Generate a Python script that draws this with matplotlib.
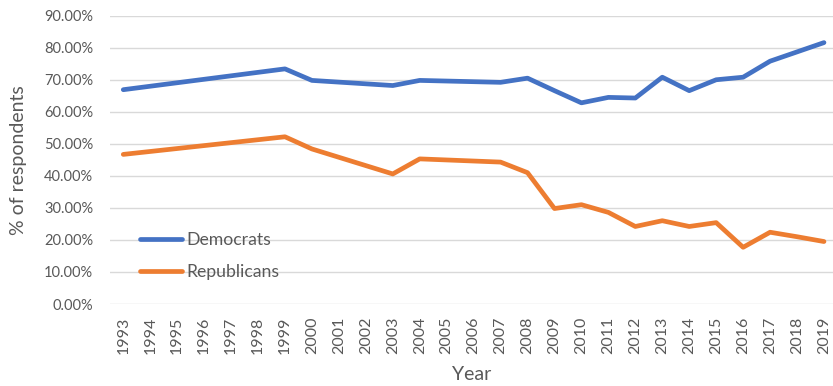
import matplotlib
matplotlib.use("Agg")
import matplotlib.pyplot as plt
from matplotlib.ticker import PercentFormatter

# share of respondents by party, survey years only
years = [1993, 1999, 2000, 2003, 2004, 2007, 2008, 2009, 2010, 2011,
         2012, 2013, 2014, 2015, 2016, 2017, 2018, 2019]
democrats = [66.9, 73.4, 69.8, 68.2, 69.8, 69.2, 70.5, 66.6, 62.8, 64.5,
             64.3, 70.8, 66.6, 70.0, 70.8, 75.8, 78.7, 81.6]
republicans = [46.7, 52.2, 48.4, 40.6, 45.3, 44.3, 41.0, 29.8, 31.0, 28.6,
               24.2, 26.0, 24.2, 25.4, 17.7, 22.4, 21.0, 19.5]
tick_years = list(range(1993, 2020))
y_ticks = [0, 10, 20, 30, 40, 50, 60, 70, 80, 90]

TEXT = "#595959"
GRID = "#D9D9D9"
W, H = 833, 386

plt.rcParams["font.family"] = ["Lato", "DejaVu Sans"]

fig = plt.figure(figsize=(W / 100, H / 100), dpi=100)
ax = fig.add_axes([109.8 / W, (H - 304) / H, (W - 109.8) / W, (304 - 15.7) / H])

ax.plot(years, democrats, color="#4472C4", lw=3.4, solid_joinstyle="round",
        solid_capstyle="round", label="Democrats", clip_on=False, zorder=3)
ax.plot(years, republicans, color="#ED7D31", lw=3.4, solid_joinstyle="round",
        solid_capstyle="round", label="Republicans", clip_on=False, zorder=3)

ax.set_xlim(1992.5, 1992.5 + (W - 109.8) / 26.95)
ax.set_ylim(0, 90)
ax.set_xticks(tick_years)
ax.set_xticklabels([str(y) for y in tick_years], rotation=90, va="top", ha="center")
ax.set_yticks(y_ticks)
ax.yaxis.set_major_formatter(PercentFormatter(xmax=100, decimals=2))

ax.grid(axis="y", color=GRID, lw=1.0)
ax.set_axisbelow(True)
for s in ax.spines.values():
    s.set_visible(False)
ax.tick_params(axis="both", length=0, colors=TEXT)
ax.tick_params(axis="y", labelsize=10.5, pad=12)
ax.tick_params(axis="x", labelsize=11.5, pad=9)

# y label anchor is the right edge of the rotated text
ax.set_ylabel("% of respondents", fontsize=14, color=TEXT)
ax.yaxis.set_label_coords(27 / W, (H - 160) / H, transform=fig.transFigure)
ax.set_xlabel("Year", fontsize=14, color=TEXT)
ax.xaxis.set_label_coords(472 / W, (H - 366) / H, transform=fig.transFigure)

leg = ax.legend(loc="center left", bbox_to_anchor=(140 / W, (H - 256) / H),
                bbox_transform=fig.transFigure, frameon=False, fontsize=12.7,
                handlelength=2.4, handletextpad=0.22, labelspacing=0.9,
                borderpad=0, borderaxespad=0)
for t in leg.get_texts():
    t.set_color(TEXT)

fig.savefig("out.png", dpi=100)
